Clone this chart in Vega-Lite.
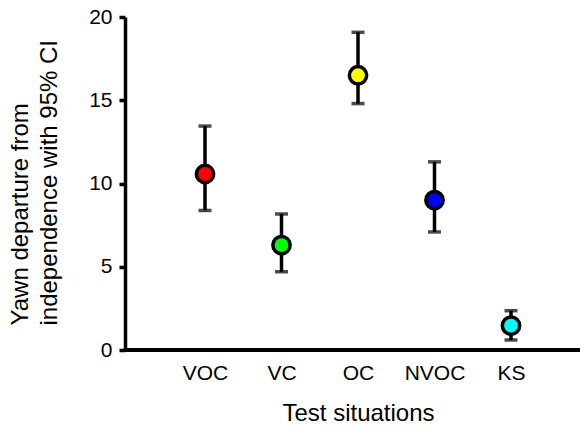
{
  "$schema": "https://vega.github.io/schema/vega-lite/v6.json",
  "width": 455,
  "height": 333,
  "autosize": {"type": "none"},
  "padding": {"left": 125, "top": 17, "right": 0, "bottom": 82},
  "background": "white",
  "config": {
    "view": {"stroke": null},
    "font": "Liberation Sans",
    "axis": {"grid": false, "domainColor": "black", "domainWidth": 3.5, "tickColor": "black", "tickWidth": 3.5, "labelColor": "black", "titleColor": "black", "labelFont": "Liberation Sans", "titleFont": "Liberation Sans", "titleFontWeight": "normal"}
  },
  "data": {
    "values": [
      {"situation": "VOC", "mean": 10.57, "lower": 8.38, "upper": 13.45},
      {"situation": "VC", "mean": 6.3, "lower": 4.7, "upper": 8.17},
      {"situation": "OC", "mean": 16.5, "lower": 14.8, "upper": 19.08},
      {"situation": "NVOC", "mean": 9.0, "lower": 7.09, "upper": 11.3},
      {"situation": "KS", "mean": 1.46, "lower": 0.6, "upper": 2.36}
    ]
  },
  "encoding": {
    "x": {
      "field": "situation",
      "type": "nominal",
      "sort": ["VOC", "VC", "OC", "NVOC", "KS"],
      "scale": {"type": "point", "range": [80, 386], "padding": 0},
      "axis": {"title": "Test situations", "labelAngle": 0, "ticks": false, "domain": false, "labelFontSize": 21, "labelPadding": 12, "titleFontSize": 24, "titlePadding": 18}
    }
  },
  "layer": [
    {
      "mark": {"type": "rule", "color": "black", "strokeWidth": 3.5},
      "encoding": {
        "x": null,
        "y": {"datum": 0, "type": "quantitative"}
      }
    },
    {
      "mark": {"type": "rule", "color": "black", "strokeWidth": 3.5},
      "encoding": {
        "y": {
          "field": "lower",
          "type": "quantitative",
          "scale": {"domain": [0, 20], "nice": false},
          "axis": {
            "values": [0, 5, 10, 15, 20],
            "tickSize": 6,
            "labelFontSize": 21,
            "labelPadding": 7,
            "title": ["Yawn departure from", "independence with 95% CI"],
            "titleFontSize": 24,
            "titleAngle": -90,
            "titleAlign": "left",
            "titleBaseline": "bottom",
            "titleX": -93,
            "titleY": 308,
            "titleLineHeight": 29
          }
        },
        "y2": {"field": "upper"}
      }
    },
    {
      "mark": {"type": "tick", "color": "black", "thickness": 3.5, "size": 13},
      "encoding": {"y": {"field": "lower", "type": "quantitative"}}
    },
    {
      "mark": {"type": "tick", "color": "black", "thickness": 3.5, "size": 13},
      "encoding": {"y": {"field": "upper", "type": "quantitative"}}
    },
    {
      "mark": {"type": "point", "shape": "circle", "filled": true, "size": 300, "stroke": "black", "strokeWidth": 3.5, "opacity": 1},
      "encoding": {
        "y": {"field": "mean", "type": "quantitative"},
        "color": {
          "field": "situation",
          "type": "nominal",
          "scale": {"domain": ["VOC", "VC", "OC", "NVOC", "KS"], "range": ["#ff0000", "#00ff00", "#ffff00", "#0000ff", "#00ffff"]},
          "legend": null
        }
      }
    }
  ]
}
